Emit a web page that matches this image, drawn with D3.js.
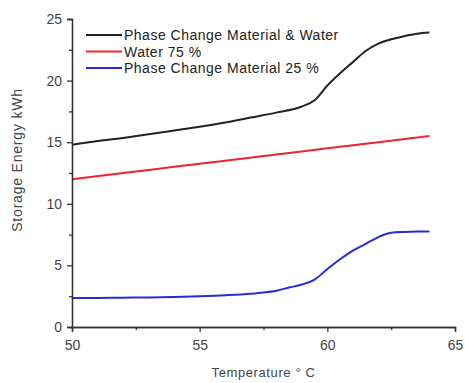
<!DOCTYPE html>
<html>
<head>
<meta charset="utf-8">
<script src="https://cdn.jsdelivr.net/npm/d3@7"></script>
<style>
  body { margin: 0; background: #fff; }
  text { font-family: "Liberation Sans", Arial, sans-serif; }
</style>
</head>
<body>
<script>
// temperatures (deg C)
var tempMix = [50, 51, 52, 53, 54, 55, 56, 57, 58, 59, 59.5, 60, 60.5, 61, 61.5, 62, 62.5, 63, 63.5, 64];
var energyMix = [14.8, 15.1, 15.35, 15.65, 15.95, 16.25, 16.6, 17.0, 17.4, 17.9, 18.4, 19.6, 20.6, 21.5, 22.4, 23.0, 23.35, 23.6, 23.8, 23.9];

var tempWater = [50, 52, 54, 56, 58, 60, 62, 64];
var energyWater = [12.0, 12.5, 13.0, 13.5, 14.0, 14.5, 15.0, 15.5];

var tempPcm = [50, 51, 52, 53, 54, 55, 56, 57, 57.5, 58, 58.5, 59, 59.5, 60, 60.5, 61, 61.5, 62, 62.5, 63, 63.5, 64];
var energyPcm = [2.35, 2.36, 2.38, 2.4, 2.44, 2.5, 2.58, 2.7, 2.8, 2.95, 3.2, 3.45, 3.85, 4.7, 5.5, 6.2, 6.75, 7.3, 7.65, 7.72, 7.75, 7.75];

var seriesNames = ['Phase Change Material & Water', 'Water 75 %', 'Phase Change Material 25 %'];
var seriesColors = ['#222222', '#ee2233', '#2a2ad8'];

var xTicks = [50, 55, 60, 65];
var xMinor = [52.5, 57.5, 62.5];
var yTicks = [0, 5, 10, 15, 20, 25];
var yMinor = [2.5, 7.5, 12.5, 17.5, 22.5];

var series = [
  { name: seriesNames[0], color: seriesColors[0], pts: d3.zip(tempMix, energyMix) },
  { name: seriesNames[1], color: seriesColors[1], pts: d3.zip(tempWater, energyWater) },
  { name: seriesNames[2], color: seriesColors[2], pts: d3.zip(tempPcm, energyPcm) }
];

var W = 465, H = 383;
var svg = d3.select('body').append('svg').attr('width', W).attr('height', H);

// plot area
var x = d3.scaleLinear().domain([50, 65]).range([72, 455]);
var y = d3.scaleLinear().domain([0, 25]).range([327, 19]);

// curves
var line = d3.line()
  .x(function(d) { return x(d[0]); })
  .y(function(d) { return y(d[1]); })
  .curve(d3.curveMonotoneX);

svg.append('g').selectAll('path')
  .data(series)
  .enter().append('path')
  .attr('d', function(d) { return line(d.pts); })
  .attr('fill', 'none')
  .attr('stroke', function(d) { return d.color; })
  .attr('stroke-width', 2);

// axes
var axisColor = '#333';
var xAxis = svg.append('g').attr('transform', 'translate(0,' + y(0) + ')')
  .call(d3.axisBottom(x).tickValues(xTicks).tickSize(5).tickFormat(d3.format('d')));
var xAxisMinor = svg.append('g').attr('transform', 'translate(0,' + y(0) + ')')
  .call(d3.axisBottom(x).tickValues(xMinor).tickSize(3).tickFormat(''));
var yAxis = svg.append('g').attr('transform', 'translate(' + x(50) + ',0)')
  .call(d3.axisLeft(y).tickValues(yTicks).tickSize(5).tickFormat(d3.format('d')));
var yAxisMinor = svg.append('g').attr('transform', 'translate(' + x(50) + ',0)')
  .call(d3.axisLeft(y).tickValues(yMinor).tickSize(3).tickFormat(''));

[xAxis, xAxisMinor, yAxis, yAxisMinor].forEach(function(a) {
  a.select('.domain').attr('stroke', axisColor).attr('stroke-width', 1.3);
  a.selectAll('line').attr('stroke', axisColor).attr('stroke-width', 1.3);
  a.selectAll('text').attr('fill', '#444').style('font-size', '14px');
});
xAxis.selectAll('text').attr('dy', '1.1em');
yAxis.selectAll('text').attr('x', -10);

// axis titles
svg.append('text')
  .attr('x', (x(50) + x(65)) / 2)
  .attr('y', 377)
  .attr('text-anchor', 'middle')
  .attr('fill', '#444')
  .style('font-size', '13px')
  .style('letter-spacing', '0.6px')
  .text('Temperature ° C');

svg.append('text')
  .attr('transform', 'translate(22,160) rotate(-90)')
  .attr('text-anchor', 'middle')
  .attr('fill', '#444')
  .style('font-size', '14px')
  .style('letter-spacing', '0.8px')
  .text('Storage Energy kWh');

// legend
var legend = svg.append('g');
series.forEach(function(s, i) {
  var ly = 35 + i * 16.5;
  legend.append('line')
    .attr('x1', 86).attr('x2', 122)
    .attr('y1', ly).attr('y2', ly)
    .attr('stroke', s.color)
    .attr('stroke-width', 2);
  legend.append('text')
    .attr('x', 124).attr('y', ly + 5)
    .attr('fill', '#222')
    .style('font-size', '14px')
    .style('letter-spacing', '0.5px')
    .text(s.name);
});
</script>
</body>
</html>
